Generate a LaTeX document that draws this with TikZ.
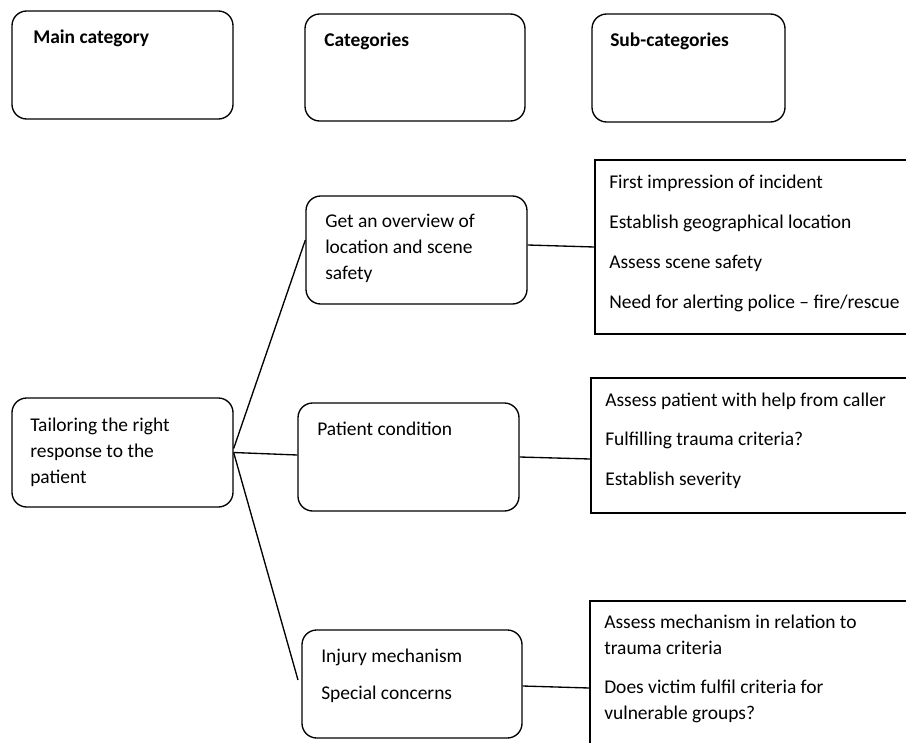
\documentclass[tikz,border=0pt]{standalone}
\usepackage{fontspec}
\setmainfont{Carlito}
\usetikzlibrary{calc}
\begin{document}
\begin{tikzpicture}[x=0.75pt,y=-0.75pt,
  rbox/.style={draw=black,line width=1pt,rounded corners=11pt,inner sep=0pt},
  sbox/.style={draw=black,line width=1pt,inner sep=0pt},
  txt/.style={anchor=base west,inner sep=0pt,align=left,font=\fontsize{14.6}{19.5}\selectfont},
  hdr/.style={txt,font=\fontsize{14.6}{19.5}\selectfont\bfseries},
  link/.style={draw=black,line width=1pt}]
\useasboundingbox (0,0) rectangle (906,742);
\clip (0,0) rectangle (906,742);
% header boxes
\node[rbox,minimum width=165.75pt,minimum height=81pt] (mainhdr) at (122.5,65) {};
\node[rbox,minimum width=165pt,minimum height=80.25pt] (cathdr) at (415,67.5) {};
\node[rbox,minimum width=144.75pt,minimum height=81pt] (subhdr) at (688.5,68) {};
\node[hdr] (mainhdrt) at (33,44) {Main category};
\node[hdr] (cathdrt) at (324,47) {Categories};
\node[hdr] (subhdrt) at (610,47) {Sub-categories};
% main category (base anchor = last line baseline)
\node[rbox,minimum width=165.75pt,minimum height=81.75pt] (tail) at (122.5,452.5) {};
\node[txt] (tailt) at (30,483) {Tailoring the right\\response to the\\patient};
% categories
\node[rbox,minimum width=165.75pt,minimum height=81pt] (over) at (416.5,250) {};
\node[txt] (overt) at (325,279) {Get an overview of\\location and scene\\safety};
\node[rbox,minimum width=165.75pt,minimum height=81pt] (pat) at (408.5,457) {};
\node[txt] (patt) at (317,435) {Patient condition};
\node[rbox,minimum width=165pt,minimum height=81pt] (inj) at (412,684) {};
\node[txt] (injt) at (321,699) {Injury mechanism\\[8pt]Special concerns};
% sub-categories
\node[sbox,minimum width=251.25pt,minimum height=130.5pt] (s1) at (762.5,247) {};
\node[txt] (s1t) at (609,308) {First impression of incident\\[10.5pt]Establish geographical location\\[10.5pt]Assess scene safety\\[10.5pt]Need for alerting police – fire/rescue};
\node[sbox,minimum width=254.25pt,minimum height=101.25pt] (s2) at (760.5,445.5) {};
\node[txt] (s2t) at (605,485) {Assess patient with help from caller\\[10pt]Fulfilling trauma criteria?\\[10pt]Establish severity};
\node[sbox,minimum width=255pt,minimum height=134.25pt] (s3) at (760,690.5) {};
\node[txt] (s3t) at (604,719) {Assess mechanism in relation to\\trauma criteria\\[9.5pt]Does victim fulfil criteria for\\vulnerable groups?};
% connectors
\coordinate (injend) at (298,680);
\draw[link] ([yshift=3pt]tail.east) -- ([yshift=7.5pt]over.west);
\draw[link] (tail.east) -- ([yshift=1.5pt]pat.west);
\draw[link] (tail.east) -- (injend);
\draw[link] ([yshift=3.75pt]over.east) -- (s1.west);
\draw[link] (pat.east) -- ([yshift=-1.5pt]pat.east -| s2.west);
\draw[link] ([yshift=-1.5pt]inj.east) -- ([yshift=-3pt]inj.east -| s3.west);
\end{tikzpicture}
\end{document}
